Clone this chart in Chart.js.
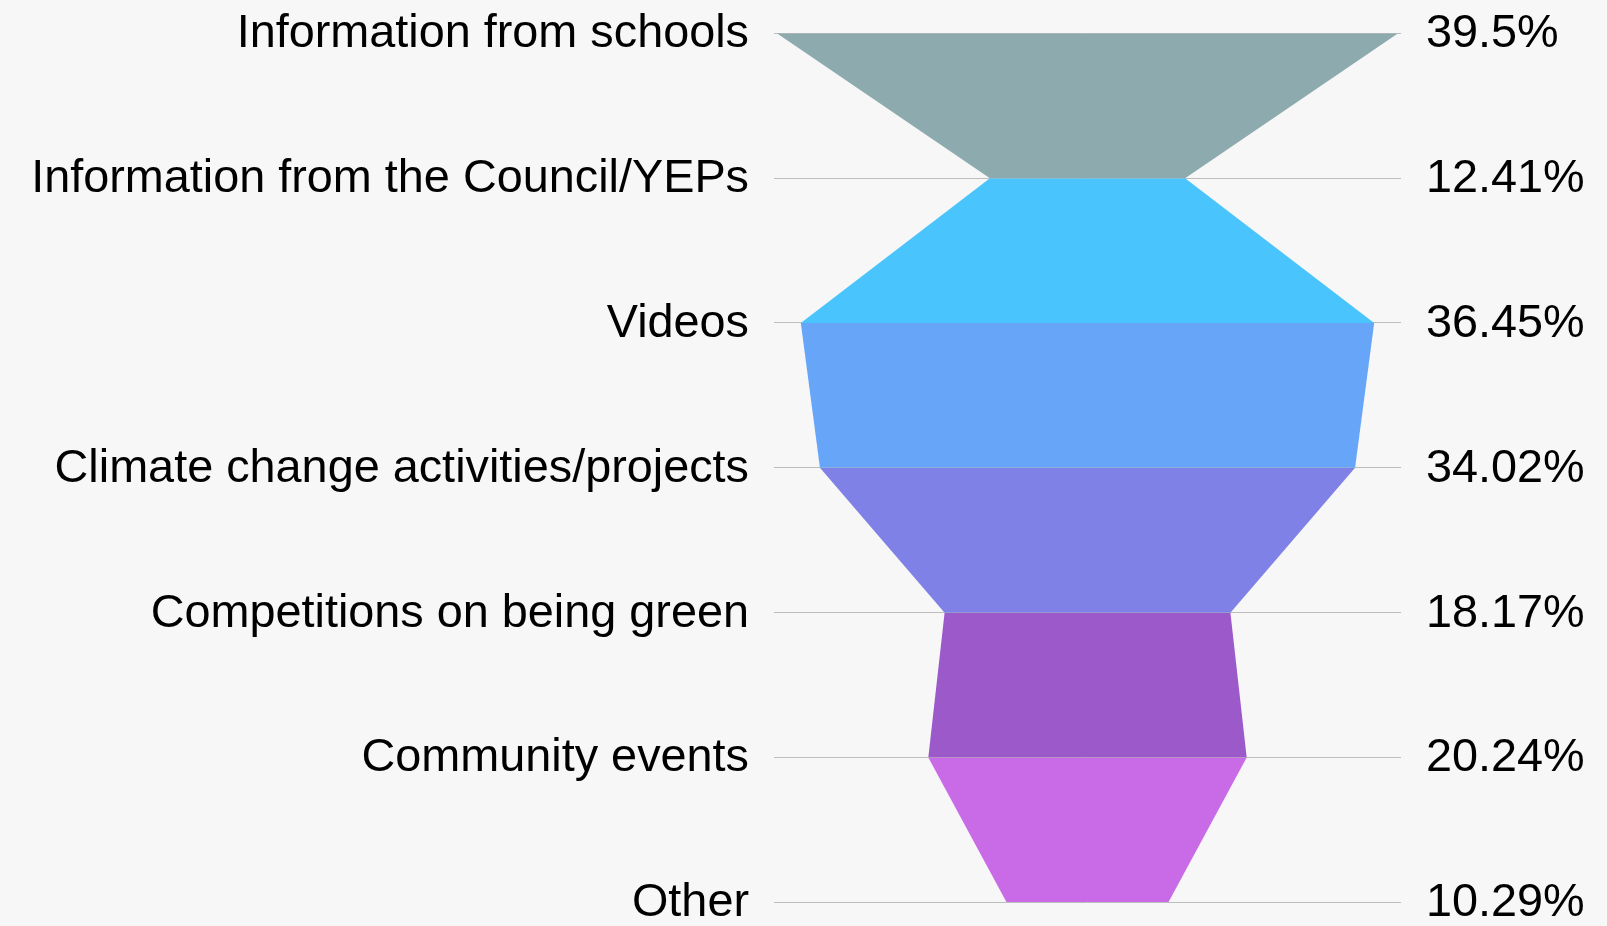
<!DOCTYPE html>
<html>
<head>
<meta charset="utf-8">
<script src="https://cdn.jsdelivr.net/npm/chart.js@4/dist/chart.umd.min.js"></script>
<style>
  html, body { margin: 0; padding: 0; background: #f7f7f7; overflow: hidden; }
  #wrap { width: 1607px; height: 926px; position: relative; }
</style>
</head>
<body>
<div id="wrap"><canvas id="funnel"></canvas></div>
<script>
/* Chart data */
const categories = [
    "Information from schools",
    "Information from the Council/YEPs",
    "Videos",
    "Climate change activities/projects",
    "Competitions on being green",
    "Community events",
    "Other"
];
const percentages = [39.5, 12.41, 36.45, 34.02, 18.17, 20.24, 10.29];
const bandColors = ["#8daaae", "#49c4fc", "#66a5f8", "#7f81e6", "#9b59c9", "#c96be6"];

/* Each band is a left edge + right edge pair, filled between them */
const datasets = [];
for (let i = 0; i < percentages.length - 1; i++) {
    const a = percentages[i] / 2, b = percentages[i + 1] / 2;
    datasets.push({
        data: [{x: -a, y: i}, {x: -b, y: i + 1}],
        fill: "+1",
        backgroundColor: bandColors[i],
        borderWidth: 0,
        pointRadius: 0
    });
    datasets.push({
        data: [{x: a, y: i}, {x: b, y: i + 1}],
        fill: false,
        borderWidth: 0,
        pointRadius: 0
    });
}

const tickFont = {family: "Arial, 'Liberation Sans', sans-serif", size: 46.8, lineHeight: 1};
const halfRange = 19.93;

/* pin the side axes to fixed widths and drop the label overhang padding */
function pinAxis(width) {
    return s => {
        s.width = width;
        s.paddingTop = 0;
        s.paddingBottom = 0;
    };
}

new Chart(document.getElementById("funnel"), {
    type: "line",
    data: {datasets: datasets},
    options: {
        indexAxis: "y",
        responsive: true,
        maintainAspectRatio: false,
        animation: false,
        layout: {padding: {top: 33.3, bottom: 23.7, left: 0, right: 0}},
        plugins: {legend: {display: false}, tooltip: {enabled: false}},
        scales: {
            x: {type: "linear", min: -halfRange, max: halfRange, display: false},
            y: {
                type: "linear", position: "left", reverse: true, min: 0, max: percentages.length - 1,
                grid: {color: "#bdbdbd", lineWidth: 1, drawTicks: false},
                border: {display: false},
                ticks: {
                    stepSize: 1, autoSkip: false, padding: 25, labelOffset: 1, color: "#000", font: tickFont,
                    callback: v => categories[v]
                },
                afterFit: pinAxis(774)
            },
            y2: {
                type: "linear", position: "right", reverse: true, min: 0, max: percentages.length - 1,
                grid: {display: false, drawTicks: false},
                border: {display: false},
                ticks: {
                    stepSize: 1, autoSkip: false, padding: 25, labelOffset: 1, color: "#000", font: tickFont,
                    callback: v => `${percentages[v]}%`
                },
                afterFit: pinAxis(206)
            }
        }
    }
});
</script>
</body>
</html>
